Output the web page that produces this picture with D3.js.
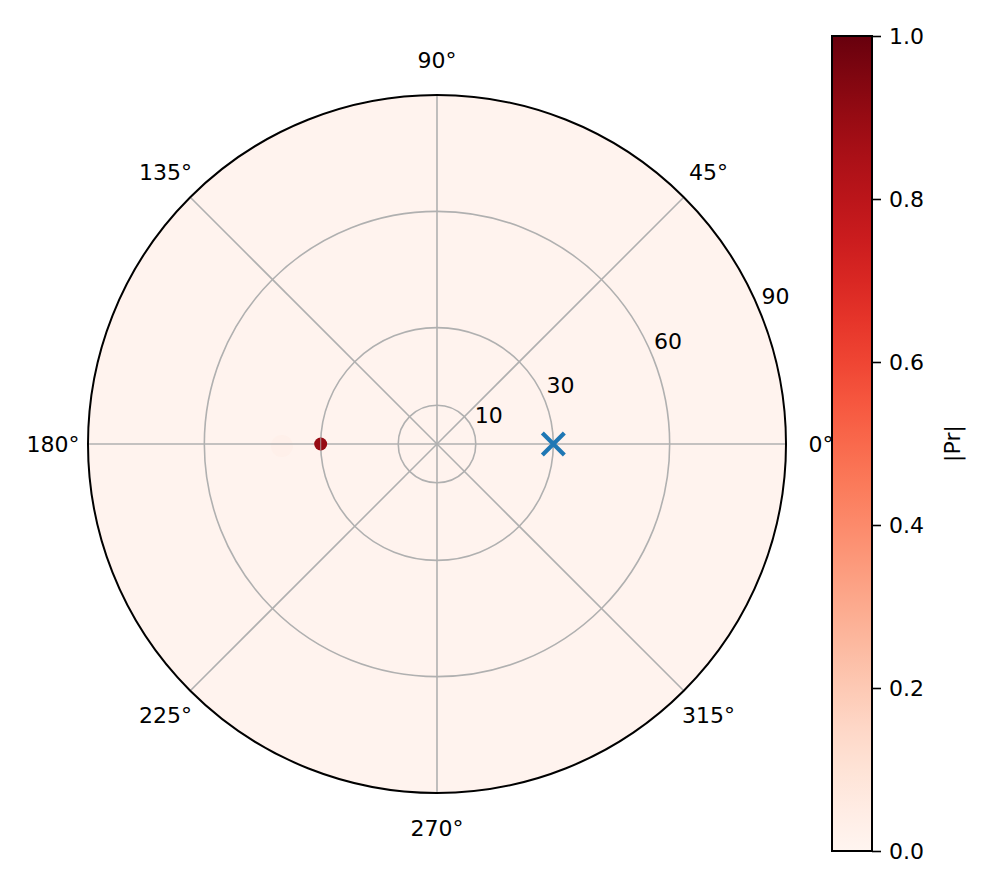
<!DOCTYPE html>
<html><head><meta charset="utf-8">
<script src="https://cdn.jsdelivr.net/npm/d3@7"></script>
<style>body{margin:0;background:#fff}text{font-family:"DejaVu Sans",sans-serif;}</style>
</head><body>
<script>
const angleTicks = [0, 45, 90, 135, 180, 225, 270, 315];
const radialTicks = [10, 30, 60, 90];
const rMax = 90;
// scattered |Pr| points (r, theta in degrees, value)
const pointR = [30, 40];
const pointTheta = [180, 180];
const pointValue = [0.9, 0.06];
const pointSize = [6.5, 11];
// background field value (nearly zero everywhere)
const fieldValue = [0.01];
// marker (X)
const markR = [30];
const markTheta = [0];
const cbTicks = [0.0, 0.2, 0.4, 0.6, 0.8, 1.0];

const W = 996, H = 893;
const cx = 437, cy = 444, R = 349;
const svg = d3.select("body").append("svg").attr("width", W).attr("height", H);
const rScale = d3.scaleLinear().domain([0, rMax]).range([0, R]);
const color = d3.scaleSequential(d3.interpolateReds).domain([0, 1]);
const toXY = (r, deg) => { const a = deg * Math.PI / 180; return [cx + rScale(r) * Math.cos(a), cy - rScale(r) * Math.sin(a)]; };

svg.append("defs").append("clipPath").attr("id", "disc").append("circle").attr("cx", cx).attr("cy", cy).attr("r", R);
const g = svg.append("g").attr("clip-path", "url(#disc)");
g.selectAll("circle.field").data(fieldValue).join("circle").attr("class", "field")
  .attr("cx", cx).attr("cy", cy).attr("r", R).attr("fill", d => color(d));

const pts = pointR.map((r, i) => ({ r, t: pointTheta[i], v: pointValue[i], s: pointSize[i] }));
g.selectAll("circle.pt").data(pts.filter(d => d.v < 0.5)).join("circle").attr("class", "pt")
  .attr("cx", d => toXY(d.r, d.t)[0]).attr("cy", d => toXY(d.r, d.t)[1] + 2)
  .attr("r", d => d.s).attr("fill", d => color(d.v)).attr("opacity", 0.35);

// grid
g.selectAll("circle.grid").data(radialTicks.slice(0, -1)).join("circle").attr("class", "grid")
  .attr("cx", cx).attr("cy", cy).attr("r", d => rScale(d)).attr("fill", "none").attr("stroke", "#b0b0b0").attr("stroke-width", 1.6);
g.selectAll("line.grid").data(angleTicks).join("line").attr("class", "grid")
  .attr("x1", cx).attr("y1", cy).attr("x2", d => toXY(rMax, d)[0]).attr("y2", d => toXY(rMax, d)[1])
  .attr("stroke", "#b0b0b0").attr("stroke-width", 1.6);

// strong point
g.selectAll("circle.pt2").data(pts.filter(d => d.v >= 0.5)).join("circle").attr("class", "pt2")
  .attr("cx", d => toXY(d.r, d.t)[0]).attr("cy", d => toXY(d.r, d.t)[1])
  .attr("r", d => d.s).attr("fill", d => color(d.v));
g.selectAll("line.pt2v").data(pts.filter(d => d.v >= 0.5)).join("line")
  .attr("x1", d => toXY(d.r, d.t)[0]).attr("x2", d => toXY(d.r, d.t)[0])
  .attr("y1", d => toXY(d.r, d.t)[1] - d.s).attr("y2", d => toXY(d.r, d.t)[1] + d.s)
  .attr("stroke", "#b0b0b0").attr("stroke-width", 1.2).attr("opacity", 0.7);

// X marker
const xs = 11;
markR.forEach((r, i) => {
  const [x, y] = toXY(r, markTheta[i]);
  svg.append("path").attr("d", `M${x - xs},${y - xs}L${x + xs},${y + xs}M${x - xs},${y + xs}L${x + xs},${y - xs}`)
    .attr("stroke", "#1f77b4").attr("stroke-width", 4.2).attr("fill", "none");
});

// outer circle
svg.append("circle").attr("cx", cx).attr("cy", cy).attr("r", R).attr("fill", "none").attr("stroke", "#000").attr("stroke-width", 2);

// angle labels
svg.selectAll("text.ang").data(angleTicks).join("text").attr("class", "ang")
  .attr("x", d => cx + (R + 35) * Math.cos(d * Math.PI / 180))
  .attr("y", d => cy - (R + 35) * Math.sin(d * Math.PI / 180))
  .attr("text-anchor", "middle").attr("dominant-baseline", "central")
  .attr("font-size", 22).text(d => d + "°");

// radial labels
svg.selectAll("text.rad").data(radialTicks).join("text").attr("class", "rad")
  .attr("x", d => toXY(d, 22.5)[0] + 2)
  .attr("y", d => toXY(d, 22.5)[1] - 6)
  .attr("font-size", 22).text(d => d);

// colorbar
const cbX = 832, cbW = 40, cbTop = 36, cbBot = 851;
const cbScale = d3.scaleLinear().domain([0, 1]).range([cbBot, cbTop]);
const grad = svg.select("defs").append("linearGradient").attr("id", "cbg").attr("x1", 0).attr("y1", 1).attr("x2", 0).attr("y2", 0);
d3.range(0, 1.0001, 0.05).forEach(t => grad.append("stop").attr("offset", t).attr("stop-color", color(t)));
svg.append("rect").attr("x", cbX).attr("y", cbTop).attr("width", cbW).attr("height", cbBot - cbTop)
  .attr("fill", "url(#cbg)").attr("stroke", "#000").attr("stroke-width", 2);
const cbAxis = d3.axisRight(cbScale).tickValues(cbTicks).tickFormat(d3.format(".1f")).tickSize(9).tickPadding(8);
const ag = svg.append("g").attr("transform", `translate(${cbX + cbW},0)`).call(cbAxis);
ag.select(".domain").remove();
ag.selectAll(".tick line").attr("stroke", "#000").attr("stroke-width", 1.6);
ag.selectAll(".tick text").attr("font-size", 22).attr("font-family", "DejaVu Sans").attr("fill", "#000");
svg.append("text").attr("transform", `translate(952,${(cbTop + cbBot) / 2}) rotate(-90)`)
  .attr("text-anchor", "middle").attr("dominant-baseline", "central").attr("font-size", 22).text("|Pr|");
</script>
</body></html>
